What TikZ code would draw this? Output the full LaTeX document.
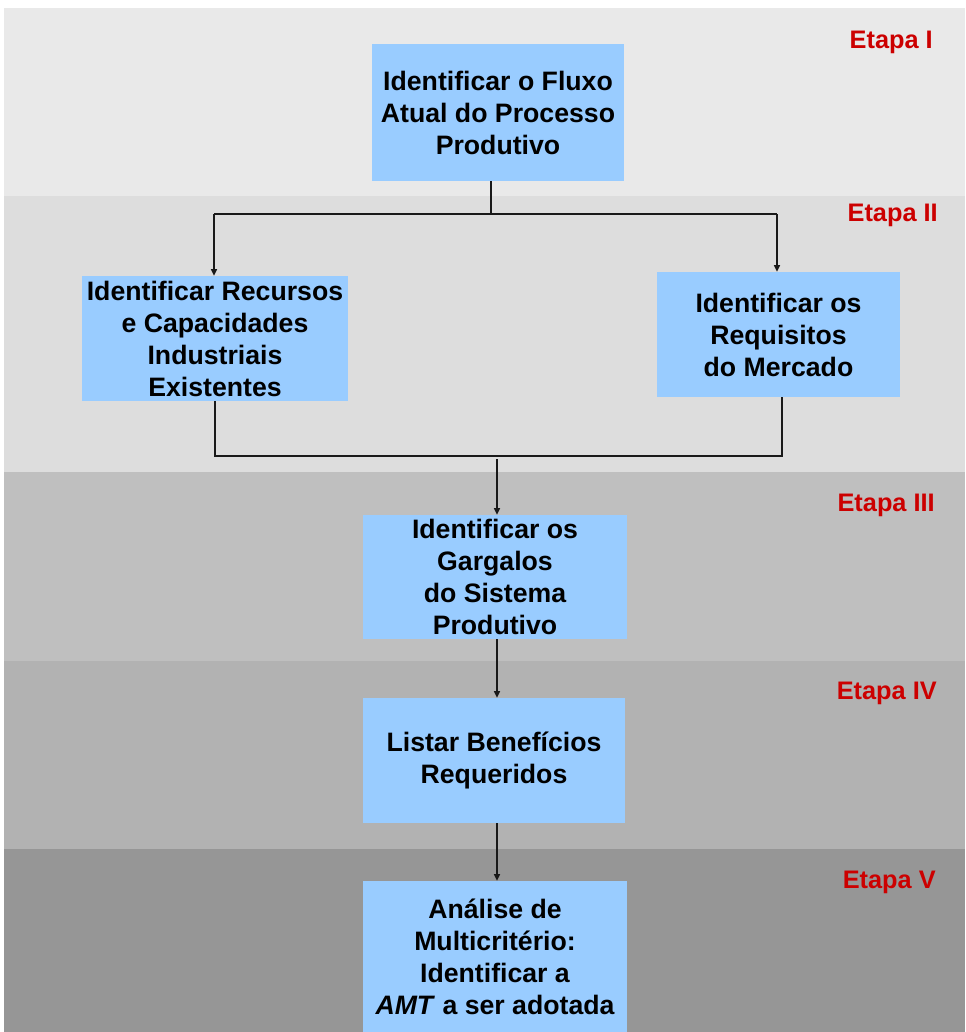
\documentclass[tikz,border=0pt]{standalone}
\usepackage{fontspec}
\setmainfont{Liberation Sans}
\usetikzlibrary{arrows.meta}

\definecolor{bandA}{HTML}{E9E9E9}
\definecolor{bandB}{HTML}{DDDDDD}
\definecolor{bandC}{HTML}{BFBFBF}
\definecolor{bandD}{HTML}{B2B2B2}
\definecolor{bandE}{HTML}{969696}
\definecolor{boxblue}{HTML}{99CCFF}
\definecolor{etapared}{HTML}{CC0000}

\begin{document}
\begin{tikzpicture}[x=0.75pt, y=-0.75pt,
  band/.style={fill=#1, draw=none},
  stepbox/.style 2 args={fill=boxblue, draw=none, inner sep=0pt,
    minimum width=#1*0.75pt, minimum height=#2*0.75pt,
    align=center, font=\fontsize{20}{24}\selectfont\bfseries},
  etapa/.style={anchor=east, text=etapared, inner sep=0pt,
    font=\fontsize{19}{22}\selectfont\bfseries},
  link/.style={line width=1.1pt, draw=black!90},
  arrow/.style={link, -{Triangle[length=5pt, width=4.5pt]}}
]
% page size
\useasboundingbox (0,0) rectangle (965,1032);

% stage bands
\fill[band=bandA] (4,8)   rectangle (965,196);
\fill[band=bandB] (4,196) rectangle (965,472);
\fill[band=bandC] (4,472) rectangle (965,661);
\fill[band=bandD] (4,661) rectangle (965,849);
\fill[band=bandE] (4,849) rectangle (965,1032);

% stage labels
\node[etapa] (e1) at (933,42)  {Etapa I};
\node[etapa] (e2) at (938,215) {Etapa II};
\node[etapa] (e3) at (935,505) {Etapa III};
\node[etapa] (e4) at (937,693) {Etapa IV};
\node[etapa] (e5) at (936,882) {Etapa V};

% process boxes
\node[stepbox={252}{137}] (b1) at (498,112.5)
  {Identificar o Fluxo\\Atual do Processo\\Produtivo};
\node[stepbox={266}{125}] (b2) at (215,338.5)
  {Identificar Recursos\\e Capacidades\\Industriais\\Existentes};
\node[stepbox={243}{125}] (b3) at (778.5,334.5)
  {Identificar os\\Requisitos\\do Mercado};
\node[stepbox={264}{124}] (b4) at (495,577)
  {Identificar os\\Gargalos\\do Sistema\\Produtivo};
\node[stepbox={262}{125}] (b5) at (494,760.5)
  {Listar Benefícios\\Requeridos};
\node[stepbox={264}{151}] (b6) at (495,956.5)
  {Análise de\\Multicritério:\\Identificar a\\\textit{AMT} a ser adotada};

% split after stage I
\coordinate (split) at (491,214);
\coordinate (splitL) at (214,214);
\coordinate (splitR) at (777,214);
\draw[link] (b1.south -| split) -- (split);
\draw[link] (splitL) -- (splitR);
\draw[arrow] (splitL) -- (splitL |- b2.north);
\draw[arrow] (splitR) -- (splitR |- b3.north);

% merge before stage III
\coordinate (joinL) at (215,456);
\coordinate (joinR) at (782,456);
\draw[link] (b2.south -| joinL) -- (joinL) -- (joinR) -- (b3.south -| joinR);
\coordinate (joinC) at (497,459);
\draw[arrow] (joinC) -- (joinC |- b4.north);

% sequential stages
\draw[arrow] (b4.south -| joinC) -- (b5.north -| joinC);
\draw[arrow] (b5.south -| joinC) -- (b6.north -| joinC);
\end{tikzpicture}
\end{document}
